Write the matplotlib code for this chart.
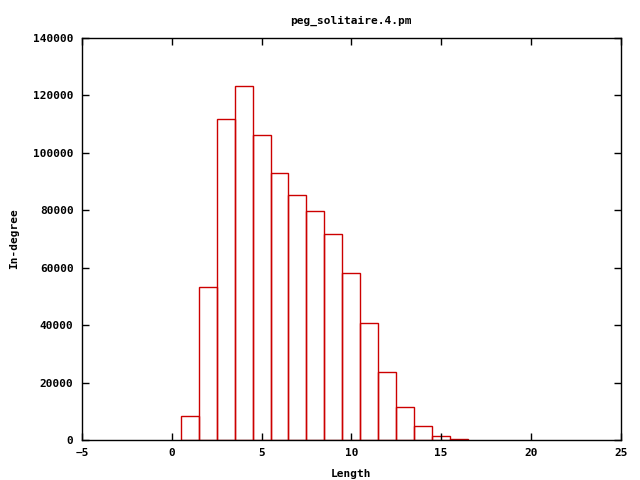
import matplotlib
matplotlib.use('Agg')
import matplotlib.pyplot as plt

# histogram data
lengths = [1, 2, 3, 4, 5, 6, 7, 8, 9, 10, 11, 12, 13, 14, 15, 16]
counts = [8300, 53300, 111700, 123300, 106100, 92900, 85200, 79700,
          71600, 58000, 40700, 23600, 11400, 4800, 1300, 300]

xticks = [-5, 0, 5, 10, 15, 20, 25]
yticks = [0, 20000, 40000, 60000, 80000, 100000, 120000, 140000]

plt.rcParams['font.family'] = 'DejaVu Sans Mono'
plt.rcParams['font.weight'] = 'bold'
plt.rcParams['font.size'] = 8

fig = plt.figure(figsize=(6.4, 4.8), dpi=100)
ax = fig.add_axes([0.128, 0.0833, 0.842, 0.8377])

ax.bar(lengths, counts, width=1.0, align='center', facecolor='none',
       edgecolor='#cc0000', linewidth=1.0)

ax.set_xlim(-5, 25)
ax.set_ylim(0, 140000)
ax.set_xticks(xticks)
ax.set_yticks(yticks)
ax.tick_params(direction='in', top=True, right=True, length=5, width=1, pad=6)
for s in ax.spines.values():
    s.set_linewidth(1)

ax.set_title('peg_solitaire.4.pm', fontsize=8, fontweight='bold', pad=10)
ax.set_xlabel('Length', fontweight='bold', labelpad=8)
ax.set_ylabel('In-degree', fontweight='bold', labelpad=10)

fig.savefig('out.png', dpi=100)
